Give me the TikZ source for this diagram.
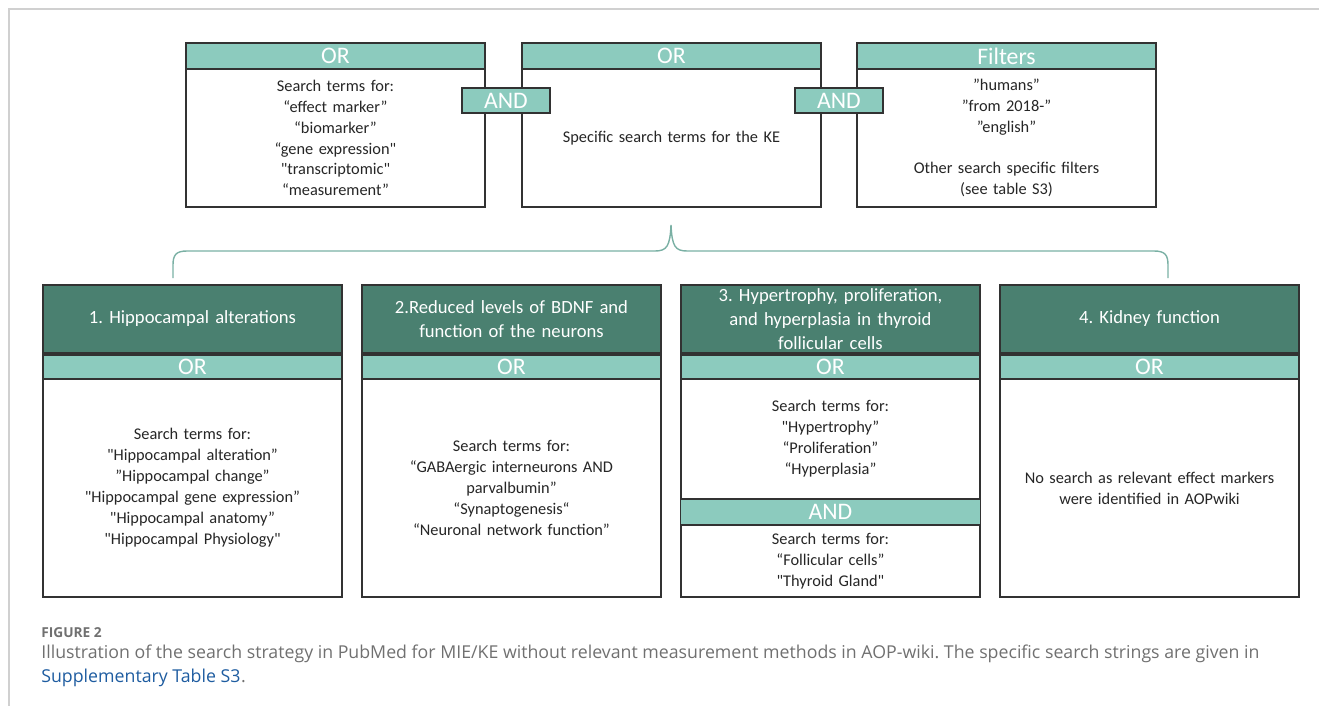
\documentclass[tikz,border=0pt]{standalone}
\usepackage{fontspec}
\setmainfont{Carlito}[Ligatures=TeXOff]
\newfontfamily\capfont{Open Sans}
\usetikzlibrary{positioning}
\definecolor{myteal}{RGB}{140,203,190}
\definecolor{mydark}{RGB}{74,128,112}
\definecolor{myline}{RGB}{50,50,50}
\definecolor{mybrace}{RGB}{122,176,164}
\definecolor{mygray}{RGB}{112,112,112}
\definecolor{myblue}{RGB}{30,92,160}
\definecolor{myframe}{RGB}{208,208,208}
\frenchspacing
\begin{document}
\begin{tikzpicture}[
      x=0.02cm, y=-0.02cm,
      bar/.style={draw=myline, fill=myteal, line width=0.7pt, text=white,
                  font=\fontsize{13.5}{14}\selectfont, inner sep=0pt,
                  outer sep=0pt, minimum width=5.98cm, minimum height=0.52cm},
      orbar/.style={bar, minimum height=0.48cm},
      andbar/.style={bar, minimum width=1.76cm, minimum height=0.5cm,
                  anchor=north west},
      textbox/.style={draw=myline, fill=white, line width=0.7pt,
                  text=black!85, font=\fontsize{9.3}{11.9}\selectfont,
                  inner sep=0pt, outer sep=0pt, text width=5.8cm,
                  align=center, minimum width=5.98cm},
      headbox/.style={draw=myline, fill=mydark, line width=0.7pt,
                  text=white, font=\fontsize{10.6}{13.6}\selectfont,
                  inner sep=0pt, outer sep=0pt, text width=5.7cm,
                  align=center, minimum width=5.98cm, minimum height=1.36cm,
                  anchor=north west},
      brace/.style={draw=mybrace, line width=0.8pt},
      captext/.style={anchor=base west, inner sep=0pt, text=mygray,
                  font=\capfont\fontsize{10.1}{13.6}\selectfont}
    ]
    \useasboundingbox (0,0) rectangle (1319,706);
    % page frame
    \draw[myframe, line width=0.8pt] (1319,9) -- (9,9) -- (9,706);
    % top row
    \node[bar, anchor=north west] (or1) at (186,43) {OR};
    \node[textbox, minimum height=2.76cm, below=0pt of or1] (terms1)
      {Search terms for:\\
       “effect marker”\\
       “biomarker”\\
       “gene expression"\\
       "transcriptomic"\\
       “measurement”};
    \node[bar, anchor=north west] (or2) at (522,43) {OR};
    \node[textbox, minimum height=2.76cm, below=0pt of or2] (terms2)
      {Specific search terms for the KE};
    \node[bar, anchor=north west] (filt) at (857,43) {Filters};
    \node[textbox, minimum height=2.76cm, below=0pt of filt] (terms3)
      {”humans”\\
       ”from 2018-”\\
       ”english”\\[11.9pt]
       Other search specific filters\\
       (see table S3)};
    \node[andbar] (and1) at (462,88) {AND};
    \node[andbar] (and2) at (795,88) {AND};
    % brace
    \coordinate (bl) at (173,278);
    \coordinate (br) at (1168,278);
    \coordinate (bt) at (671,225);
    \draw[brace] (bl) -- (173,265) .. controls (173,255) and (176,251) .. (187,251)
      -- (655,251) .. controls (667,251) and (670,246) .. (bt)
      .. controls (672,246) and (675,251) .. (687,251)
      -- (1154,251) .. controls (1165,251) and (1168,255) .. (1168,265) -- (br);
    % bottom row
    \node[headbox] (ke1) at (43,285) {1. Hippocampal alterations};
    \node[orbar, below=0.04cm of ke1] (kor1) {OR};
    \node[textbox, minimum height=4.36cm, below=0pt of kor1] (kt1)
      {Search terms for:\\
       "Hippocampal alteration”\\
       ”Hippocampal change”\\
       "Hippocampal gene expression”\\
       "Hippocampal anatomy”\\
       "Hippocampal Physiology"};
    \node[headbox] (ke2) at (362,285)
      {2.Reduced levels of BDNF and\\ function of the neurons};
    \node[orbar, below=0.04cm of ke2] (kor2) {OR};
    \node[textbox, minimum height=4.36cm, below=0pt of kor2] (kt2)
      {Search terms for:\\
       “GABAergic interneurons AND\\
       parvalbumin”\\
       “Synaptogenesis“\\
       “Neuronal network function”};
    \node[headbox] (ke3) at (681,285)
      {3. Hypertrophy, proliferation,\\ and hyperplasia in thyroid\\ follicular cells};
    \node[orbar, below=0.04cm of ke3] (kor3) {OR};
    \node[textbox, minimum height=2.4cm, below=0pt of kor3] (kt3)
      {Search terms for:\\
       "Hypertrophy”\\
       “Proliferation”\\
       “Hyperplasia”};
    \node[bar, minimum width=6cm, below=0pt of kt3] (kand3) {AND};
    \node[textbox, minimum height=1.44cm, below=0pt of kand3] (kt3b)
      {Search terms for:\\
       “Follicular cells”\\
       "Thyroid Gland"};
    \node[headbox] (ke4) at (1000,285) {4. Kidney function};
    \node[orbar, below=0.04cm of ke4] (kor4) {OR};
    \node[textbox, minimum height=4.36cm, below=0pt of kor4] (kt4)
      {No search as relevant effect markers\\ were identified in AOPwiki};
    % caption
    \node[captext, font=\capfont\bfseries\fontsize{7.8}{9}\selectfont] (fig)
      at (41,637) {FIGURE 2};
    \node[captext] (cap1) at (41,658)
      {Illustration of the search strategy in PubMed for MIE/KE without relevant measurement methods in AOP-wiki. The specific search strings are given in};
    \node[captext, text=myblue] (cap2) at (41,682) {Supplementary Table S3};
    \node[captext, anchor=base west] (dot) at (cap2.base east) {.};
  \end{tikzpicture}
\end{document}
